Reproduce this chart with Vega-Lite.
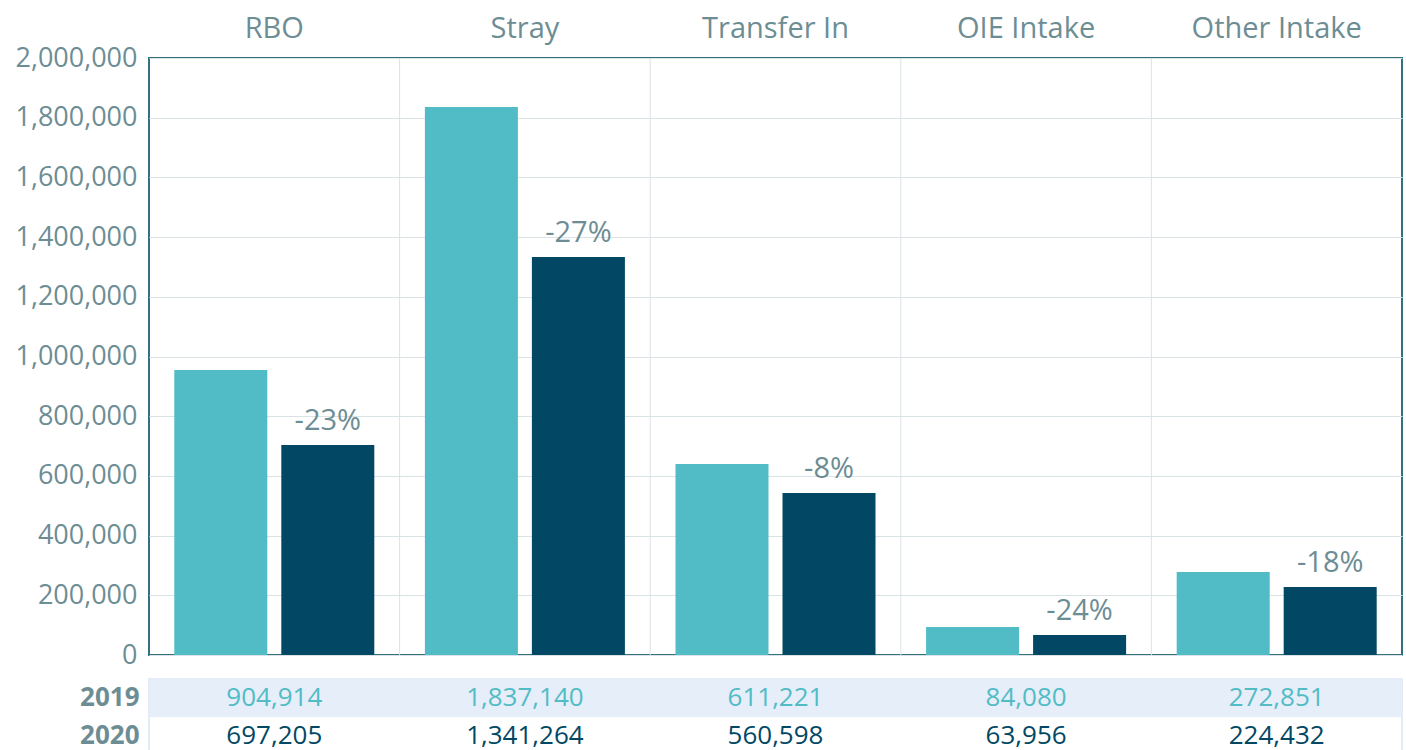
{
  "$schema": "https://vega.github.io/schema/vega-lite/v6.json",
  "background": "white",
  "padding": {"left": 13, "top": 13, "right": 0, "bottom": 0},
  "bounds": "flush",
  "spacing": 24,
  "config": {"font": "Open Sans"},
  "datasets": {
    "bars": [
      {"category": "RBO", "year": "2019", "value": 955000, "count": 904914, "pct": ""},
      {"category": "RBO", "year": "2020", "value": 703500, "count": 697205, "pct": "-23%"},
      {"category": "Stray", "year": "2019", "value": 1835800, "count": 1837140, "pct": ""},
      {"category": "Stray", "year": "2020", "value": 1333300, "count": 1341264, "pct": "-27%"},
      {"category": "Transfer In", "year": "2019", "value": 639900, "count": 611221, "pct": ""},
      {"category": "Transfer In", "year": "2020", "value": 542700, "count": 560598, "pct": "-8%"},
      {"category": "OIE Intake", "year": "2019", "value": 93800, "count": 84080, "pct": ""},
      {"category": "OIE Intake", "year": "2020", "value": 67000, "count": 63956, "pct": "-24%"},
      {"category": "Other Intake", "year": "2019", "value": 278100, "count": 272851, "pct": ""},
      {"category": "Other Intake", "year": "2020", "value": 227800, "count": 224432, "pct": "-18%"}
    ]
  },
  "vconcat": [
    {
      "width": 1253,
      "height": 597,
      "data": {"name": "bars"},
      "view": {"stroke": "#35707f", "strokeWidth": 2},
      "layer": [
        {
          "transform": [{"filter": "datum.year == '2019' && datum.category != 'RBO'"}],
          "mark": {"type": "rule", "color": "#d9e3e6", "strokeWidth": 1},
          "encoding": {
            "x": {"field": "category", "type": "nominal", "bandPosition": 0,
              "sort": ["RBO", "Stray", "Transfer In", "OIE Intake", "Other Intake"],
              "scale": {"paddingInner": 0, "paddingOuter": 0},
              "axis": {"orient": "top", "title": null, "ticks": false, "domain": false, "grid": false,
                "labelAngle": 0, "labelAlign": "center", "labelBaseline": "bottom", "labelFontSize": 29,
                "labelColor": "#6d8d94", "labelPadding": 15}}
          }
        },
        {
          "mark": {"type": "bar"},
          "encoding": {
            "x": {"field": "category", "type": "nominal",
              "sort": ["RBO", "Stray", "Transfer In", "OIE Intake", "Other Intake"],
              "scale": {"paddingInner": 0, "paddingOuter": 0},
              "axis": {"orient": "top", "title": null, "ticks": false, "domain": false, "grid": false,
                "labelAngle": 0, "labelAlign": "center", "labelBaseline": "bottom", "labelFontSize": 29,
                "labelColor": "#6d8d94", "labelPadding": 15}},
            "xOffset": {"field": "year", "type": "nominal", "sort": ["2019", "2020"],
              "scale": {"paddingInner": 0.1308, "paddingOuter": 0.2364}},
            "y": {"field": "value", "type": "quantitative",
              "scale": {"domain": [0, 2000000], "nice": false},
              "axis": {"title": null, "values": [0, 200000, 400000, 600000, 800000, 1000000, 1200000, 1400000, 1600000, 1800000, 2000000],
                "format": ",d", "domain": false, "ticks": false, "labelPadding": 12, "labelFontSize": 27,
                "labelColor": "#6d8d94", "gridColor": "#d9e3e6", "gridWidth": 1}},
            "color": {"field": "year", "type": "nominal",
              "scale": {"domain": ["2019", "2020"], "range": ["#52bcc6", "#024864"]}, "legend": null}
          }
        },
        {
          "transform": [{"filter": "datum.year == '2020'"}],
          "mark": {"type": "text", "fontSize": 29, "color": "#6d8d94", "baseline": "alphabetic", "dy": -15},
          "encoding": {
            "x": {"field": "category", "type": "nominal",
              "sort": ["RBO", "Stray", "Transfer In", "OIE Intake", "Other Intake"],
              "scale": {"paddingInner": 0, "paddingOuter": 0},
              "axis": {"orient": "top", "title": null, "ticks": false, "domain": false, "grid": false,
                "labelAngle": 0, "labelAlign": "center", "labelBaseline": "bottom", "labelFontSize": 29,
                "labelColor": "#6d8d94", "labelPadding": 15}},
            "xOffset": {"field": "year", "type": "nominal", "sort": ["2019", "2020"],
              "scale": {"paddingInner": 0.1308, "paddingOuter": 0.2364}},
            "y": {"field": "value", "type": "quantitative",
              "scale": {"domain": [0, 2000000], "nice": false},
              "axis": {"title": null, "values": [0, 200000, 400000, 600000, 800000, 1000000, 1200000, 1400000, 1600000, 1800000, 2000000],
                "format": ",d", "domain": false, "ticks": false, "labelPadding": 12, "labelFontSize": 27,
                "labelColor": "#6d8d94", "gridColor": "#d9e3e6", "gridWidth": 1}},
            "text": {"field": "pct"}
          }
        }
      ]
    },
    {
      "width": 1253,
      "height": 76,
      "data": {"name": "bars"},
      "view": {"stroke": "#e3ebf6", "strokeWidth": 2},
      "layer": [
        {
          "transform": [{"filter": "datum.year == '2019' && datum.category == 'RBO'"}],
          "mark": {"type": "rect", "color": "#e6eef9"},
          "encoding": {
            "y": {"field": "year", "type": "nominal", "sort": ["2019", "2020"],
              "scale": {"domain": ["2019", "2020"], "paddingInner": 0, "paddingOuter": 0},
              "axis": {"title": null, "ticks": false, "domain": false, "labelFontSize": 26, "labelFontWeight": "bold",
                "labelColor": "#6d8d94", "labelPadding": 10}}
          }
        },
        {
          "mark": {"type": "text", "fontSize": 26, "baseline": "middle"},
          "encoding": {
            "x": {"field": "category", "type": "nominal",
              "sort": ["RBO", "Stray", "Transfer In", "OIE Intake", "Other Intake"],
              "scale": {"paddingInner": 0, "paddingOuter": 0}, "axis": null},
            "y": {"field": "year", "type": "nominal", "sort": ["2019", "2020"],
              "scale": {"domain": ["2019", "2020"], "paddingInner": 0, "paddingOuter": 0},
              "axis": {"title": null, "ticks": false, "domain": false, "labelFontSize": 26, "labelFontWeight": "bold",
                "labelColor": "#6d8d94", "labelPadding": 10}},
            "text": {"field": "count", "type": "quantitative", "format": ","},
            "color": {"field": "year", "type": "nominal",
              "scale": {"domain": ["2019", "2020"], "range": ["#52bcc6", "#024864"]}, "legend": null}
          }
        }
      ]
    }
  ]
}
